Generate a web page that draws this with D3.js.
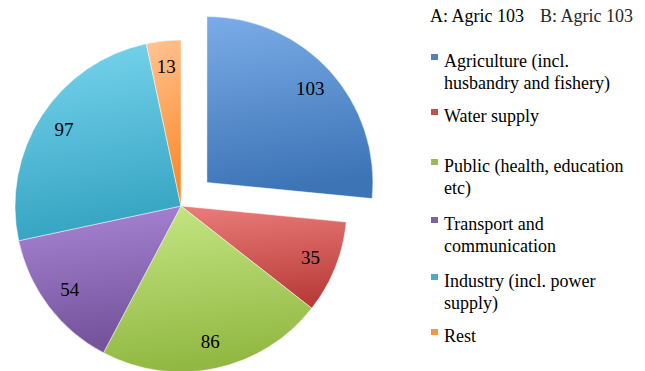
<!DOCTYPE html>
<html>
<head>
<meta charset="utf-8">
<script src="https://cdn.jsdelivr.net/npm/d3@7/dist/d3.min.js"></script>
</head>
<body style="margin:0">
<svg id="chart" width="645" height="371"></svg>
<script>
// Investment by sector
const categories = [
  "Agriculture (incl. husbandry and fishery)",
  "Water supply",
  "Public (health, education etc)",
  "Transport and communication",
  "Industry (incl. power supply)",
  "Rest"
];
const values = [103, 35, 86, 54, 97, 13];
// Legend entries broken into the lines they are set on
const legendLines = [
  ["Agriculture (incl.", "husbandry and fishery)"],
  ["Water supply"],
  ["Public (health, education", "etc)"],
  ["Transport and", "communication"],
  ["Industry (incl. power", "supply)"],
  ["Rest"]
];
const colors = ["#4f81bd", "#c0504d", "#9bbb59", "#8064a2", "#4bacc6", "#f79646"];
const explodedIndex = 0;

const svg = d3.select("#chart");

// Text first, so every label is set before the shapes are added
const textLayer = svg.append("g").attr("id", "texts");

const t1 = textLayer.append("text").attr("x", 430).attr("y", 22).attr("font-size", 18)
  .style("font-family", '"Liberation Serif", monospace').text("A: Agric 103");
const t2 = textLayer.append("text").attr("x", 540).attr("y", 22).attr("font-size", 18)
  .style("font-family", '"Liberation Serif", monospace').attr("fill", "#262626").text("B: Agric 103");

const cx = 181, cy = 206, R = 166, explode = 35;

const defs = svg.append("defs");
colors.forEach((c, i) => {
  const top = d3.hsl(c); top.s = Math.min(1, top.s + 0.25); top.l = Math.min(0.85, top.l + 0.17);
  const bot = d3.hsl(c); bot.s = Math.min(1, bot.s + 0.05); bot.l = bot.l - 0.05;
  const g = defs.append("linearGradient")
    .attr("id", "grad" + i)
    .attr("x1", 0).attr("y1", 0).attr("x2", 0.15).attr("y2", 1);
  g.append("stop").attr("offset", "0%").attr("stop-color", top.formatHex());
  g.append("stop").attr("offset", "100%").attr("stop-color", bot.formatHex());
});

const pie = d3.pie().sort(null).value(d => d).startAngle(0).endAngle(2 * Math.PI);
const arcs = pie(values);
const arc = d3.arc().innerRadius(0).outerRadius(R);
const labelArc = d3.arc().innerRadius(R * 0.84).outerRadius(R * 0.84);

function offset(d, i) {
  if (i !== explodedIndex) return [0, 0];
  const a = (d.startAngle + d.endAngle) / 2;
  return [Math.sin(a) * explode, -Math.cos(a) * explode];
}

svg.insert("g", "#texts").selectAll("path")
  .data(arcs)
  .join("path")
  .attr("transform", (d, i) => { const o = offset(d, i); return `translate(${cx + o[0]},${cy + o[1]})`; })
  .attr("d", arc)
  .attr("fill", (d, i) => `url(#grad${i})`)
  .attr("stroke", "rgba(255,255,255,0.6)")
  .attr("stroke-width", 0.8);

textLayer.selectAll("text.value")
  .data(arcs)
  .join("text")
  .attr("class", "value")
  .attr("x", (d, i) => cx + offset(d, i)[0] + labelArc.centroid(d)[0])
  .attr("y", (d, i) => cy + offset(d, i)[1] + labelArc.centroid(d)[1] + 6)
  .attr("text-anchor", "middle")
  .attr("font-size", 19)
  .style("font-family", '"Liberation Serif", monospace')
  .text(d => d.data);

const legendX = 431, lineGap = 22;
const itemTops = [62, 117, 167, 225, 282, 337];
svg.selectAll("rect.key")
  .data(categories)
  .join("rect")
  .attr("class", "key")
  .attr("x", legendX).attr("y", (d, i) => itemTops[i] - 8)
  .attr("width", 7).attr("height", 6)
  .attr("fill", (d, i) => colors[i]);

const lines = legendLines.flatMap((ls, i) => ls.map((t, j) => ({ t, y: itemTops[i] + 5 + j * lineGap })));
textLayer.selectAll("text.legend")
  .data(lines)
  .join("text")
  .attr("class", "legend")
  .attr("x", legendX + 13)
  .attr("y", d => d.y)
  .attr("font-size", 18)
  .style("font-family", '"Liberation Serif", monospace')
  .text(d => d.t);
</script>
</body>
</html>
